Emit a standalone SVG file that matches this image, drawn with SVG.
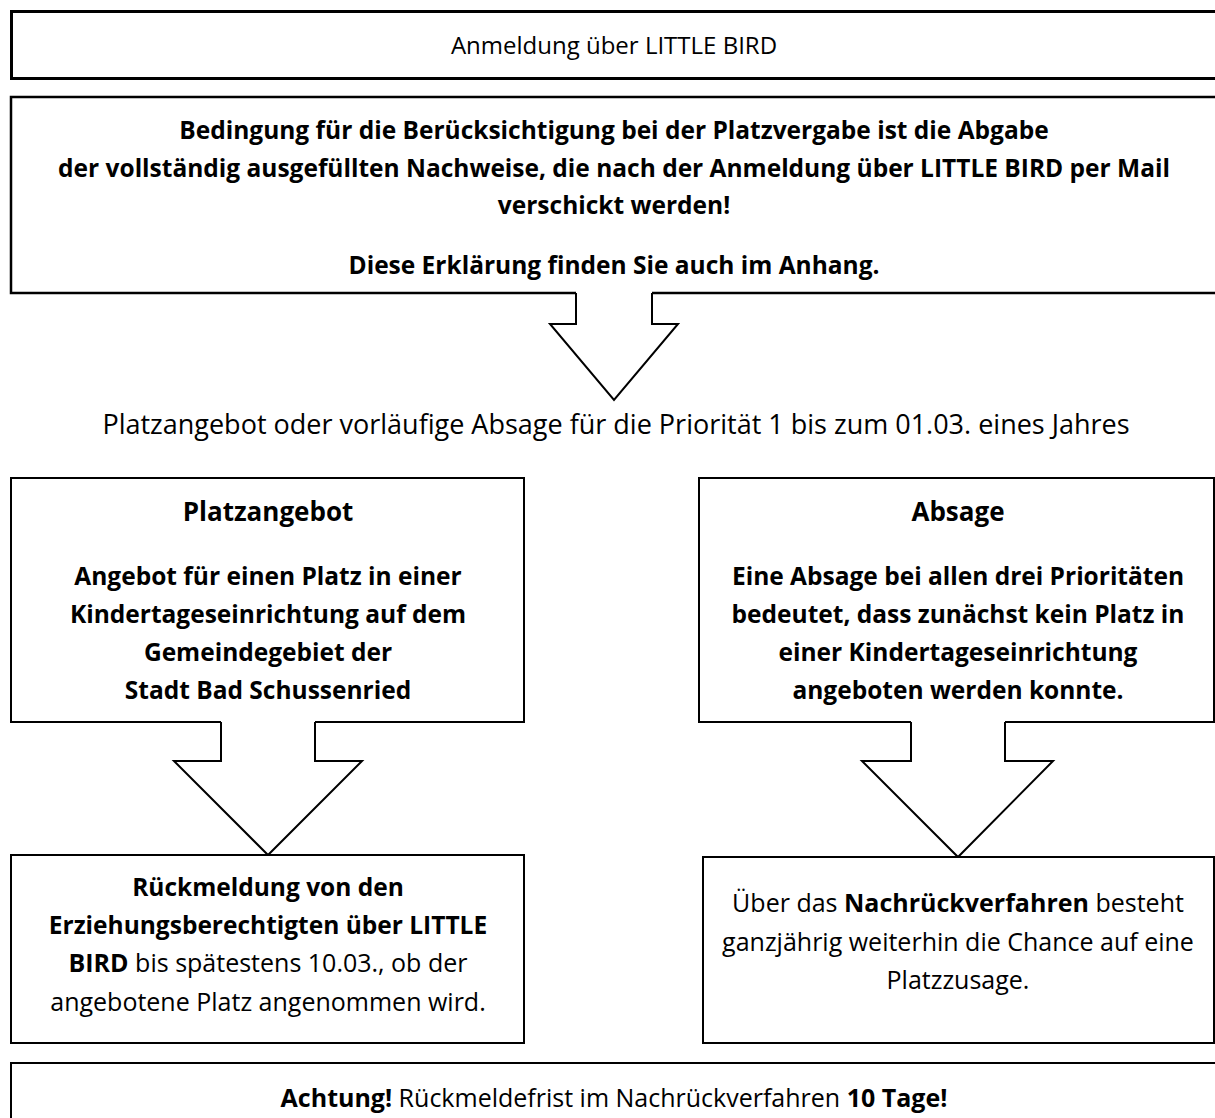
<svg xmlns="http://www.w3.org/2000/svg" width="1215" height="1118" viewBox="0 0 1215 1118">
<style>
  .box{fill:#fff;stroke:#000;stroke-width:2}
  .arr{fill:#fff;stroke:#000;stroke-width:2;stroke-linejoin:miter}
  text{font-family:"Open Sans","Noto Sans",sans-serif;fill:#000;text-anchor:middle}
  .n{font-size:25px}
  .b{font-size:24.5px;font-weight:bold}
  .t{font-size:26px;font-weight:bold}
  .bb{font-weight:bold}
  .big{font-size:27px}
  .top{font-size:24px}
</style>
<rect width="1215" height="1118" fill="#fff"/>
<g id="connectors">
  <path class="arr" d="M576,293 V324 H550 L614,400 L678,324 H652 V293"/>
  <path class="arr" d="M221,722 V761 H174 L268,855 L362,761 H315 V722"/>
  <path class="arr" d="M911,722 V761 H862 L958,857 L1053,761 H1005 V722"/>
</g>
<g id="n1">
  <rect x="11.5" y="11.5" width="1220" height="67" fill="none" stroke="#000" stroke-width="3"/>
  <text class="top" x="614" y="54">Anmeldung über LITTLE BIRD</text>
</g>
<g id="n2">
  <path d="M1225,293 H652 M576,293 H11 V97 H1225" fill="none" stroke="#000" stroke-width="2.5"/>
  <text class="b" x="614" y="139">Bedingung für die Berücksichtigung bei der Platzvergabe ist die Abgabe</text>
  <text class="b" x="614" y="177">der vollständig ausgefüllten Nachweise, die nach der Anmeldung über LITTLE BIRD per Mail</text>
  <text class="b" x="614" y="214">verschickt werden!</text>
  <text class="b" x="614" y="274">Diese Erklärung finden Sie auch im Anhang.</text>
</g>
<g id="n3">
  <text class="big" x="616" y="434">Platzangebot oder vorläufige Absage für die Priorität 1 bis zum 01.03. eines Jahres</text>
</g>
<g id="n4">
  <path d="M315,722 H524 V478 H11 V722 H221" fill="none" stroke="#000" stroke-width="2"/>
  <text class="t" x="268" y="521">Platzangebot</text>
  <text class="b" x="268" y="585">Angebot für einen Platz in einer</text>
  <text class="b" x="268" y="623">Kindertageseinrichtung auf dem</text>
  <text class="b" x="268" y="661">Gemeindegebiet der</text>
  <text class="b" x="268" y="699">Stadt Bad Schussenried</text>
</g>
<g id="n5">
  <path d="M1005,722 H1214 V478 H699 V722 H911" fill="none" stroke="#000" stroke-width="2"/>
  <text class="t" x="958" y="521">Absage</text>
  <text class="b" x="958" y="585">Eine Absage bei allen drei Prioritäten</text>
  <text class="b" x="958" y="623">bedeutet, dass zunächst kein Platz in</text>
  <text class="b" x="958" y="661">einer Kindertageseinrichtung</text>
  <text class="b" x="958" y="699">angeboten werden konnte.</text>
</g>
<g id="n6">
  <rect class="box" x="11" y="855" width="513" height="188"/>
  <text class="b" x="268" y="896">Rückmeldung von den</text>
  <text class="b" x="268" y="934">Erziehungsberechtigten über LITTLE</text>
  <text class="n" x="268" y="972"><tspan class="bb">BIRD</tspan> bis spätestens 10.03., ob der</text>
  <text class="n" x="268" y="1011">angebotene Platz angenommen wird.</text>
</g>
<g id="n7">
  <rect class="box" x="703" y="857" width="511" height="186"/>
  <text class="n" x="958" y="912">Über das <tspan class="bb">Nachrückverfahren</tspan> besteht</text>
  <text class="n" x="958" y="951">ganzjährig weiterhin die Chance auf eine</text>
  <text class="n" x="958" y="989">Platzzusage.</text>
</g>
<g id="n8">
  <path d="M11,1125 V1063 H1225" fill="none" stroke="#000" stroke-width="2"/>
  <text class="n" x="614" y="1107"><tspan class="bb">Achtung!</tspan> Rückmeldefrist im Nachrückverfahren <tspan class="bb">10 Tage!</tspan></text>
</g>
</svg>
